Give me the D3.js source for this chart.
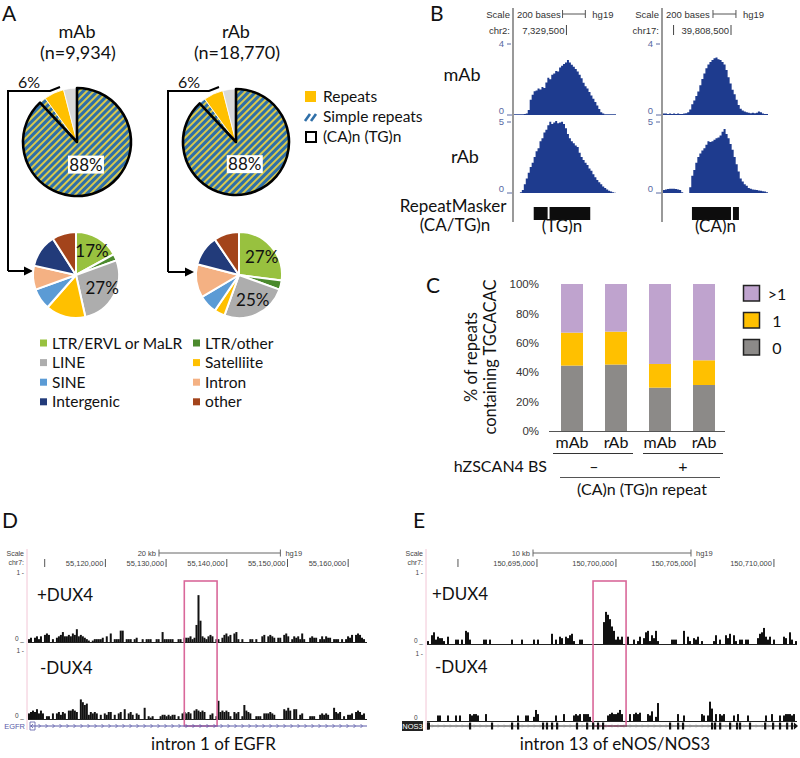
<!DOCTYPE html>
<html><head><meta charset="utf-8">
<script src="https://cdn.jsdelivr.net/npm/d3@7"></script>
<style>body{margin:0;background:#fff} svg{display:block} text{font-family:Lato,"Open Sans",sans-serif}</style>
</head><body><svg id="c" width="800" height="758"></svg>
<script>
// ---------------- DATA ----------------
// Panel A top pies
const topPieCategories = ["(CA)n (TG)n", "Other simple repeats", "Repeats", "Non-repeat"];
const topPieMAb = [88, 2, 6, 4];
const topPieRAb = [88, 2, 6, 4];
const topPieTitles = ["mAb", "rAb"];
const topPieCounts = ["(n=9,934)", "(n=18,770)"];
const topPieLabel = "88%";
const calloutLabel = "6%";
const topLegend = ["Repeats", "Simple repeats", "(CA)n (TG)n"];
// Panel A sub pies (repeat classes)
const repeatClasses = ["LTR/ERVL or MaLR", "LTR/other", "LINE", "Satelliite", "SINE", "Intron", "Intergenic", "other"];
const subPieMAb = [17, 2.5, 27, 15, 8, 9, 12.5, 9];
const subPieRAb = [27, 3.5, 25, 4, 7, 12.5, 11.5, 9.5];
const subPieLabelsMAb = ["17%", "", "27%", "", "", "", "", ""];
const subPieLabelsRAb = ["27%", "", "25%", "", "", "", "", ""];
// Panel B coverage (binned)
const bLeftDomain = [7329040, 7329935];
const bRightDomain = [39807908, 39808822];
const bLeftMAb = [0.04,0.04,0.04,0.04,0.04,0.06,0.08,0.28,0.85,1.13,1.32,1.36,1.47,1.42,1.55,1.5,1.8,2.07,1.98,2.23,2.3,2.45,2.42,2.64,2.74,2.83,2.92,3.06,2.92,2.79,2.68,2.55,2.42,2.23,2.04,1.79,1.6,1.47,1.28,1.09,0.9,0.72,0.53,0.34,0.15,0.08,0.04,0.04,0.04,0.04,0.04,0.04];
const bLeftRAb = [0,0,0,0.05,0.2,0.6,1.0,1.4,1.8,2.1,2.5,2.9,3.1,3.6,3.8,4.2,4.4,4.7,4.95,4.8,4.9,5.0,4.85,4.9,4.95,4.8,4.5,4.1,3.8,3.6,3.45,3.3,3.2,2.8,2.5,2.3,2.1,1.95,1.7,1.55,1.3,1.1,0.9,0.75,0.6,0.45,0.35,0.25,0.15,0.1,0.05,0.02];
const bRightMAb = [0.08,0.08,0.06,0.08,0.06,0.08,0.06,0.08,0.06,0.06,0.08,0.1,0.15,0.3,0.6,0.8,1.05,1.3,1.65,2.0,2.3,2.6,2.8,2.95,3.05,3.15,3.2,3.1,3.05,2.95,2.8,2.5,2.1,1.75,1.4,1.15,0.85,0.55,0.35,0.25,0.2,0.15,0.12,0.1,0.12,0.1,0.12,0.2,0.15,0.08,0.06,0.06];
const bRightRAb = [0.2,0.25,0.28,0.3,0.3,0.3,0.28,0.25,0.2,0.05,0,0,0,0.4,1.2,1.6,2.1,2.5,2.75,2.95,3.1,3.35,3.6,3.55,3.6,3.7,3.8,3.85,4.0,4.25,4.45,4.1,3.8,3.4,3.0,2.5,2.0,1.5,1.0,0.8,0.6,0.5,0.35,0.3,0.25,0.22,0.2,0.18,0.15,0.12,0.1,0.05];
const bLeftRepeats = [[7329213, 7329335], [7329352, 7329709]];
const bRightRepeats = [[39808160, 39808500], [39808517, 39808569]];
const bLeftTicks = [7329500];
const bRightTicks = [39808000, 39808500];
const bLeftBarStart = 7329466;
const bRightBarStart = 39808343;
const bTrackMax = [4, 5];
// Panel C stacked bars
const cGroups = ["mAb", "rAb", "mAb", "rAb"];
const cZero = [44.5, 45.2, 29.5, 31.3];
const cOne = [22.4, 22.4, 16.1, 16.8];
const cMore = [33.1, 32.4, 54.4, 51.9];
const cTicks = [0, 20, 40, 60, 80, 100];
const cLegend = [">1", "1", "0"];
// Panel D/E tracks: one char per bin, base-36 in units of 0.02
const dDomain = [55107250, 55163100];
const dTicks = [55110000, 55120000, 55130000, 55140000, 55150000, 55160000];
const dTickLabels = ["", "55,120,000", "55,130,000", "55,140,000", "55,150,000", "55,160,000"];
const dBar = [55128830, 55148830];
const dBox = [55133000, 55138400];
const dPlus = "2303424056502034574454659454321012222304060222880222023002022200220722222002203334 23cxf43245402203564506720200022020045045430330564024342620034330242433022202024350565320".replace(/ /g,"");
const dMinus = "45657464022040453540667650ecab35454030435503045070453043008021200023323233020454540676565003402d565652054502a654002220444543000076860770340002220034343008545020334056534 0".replace(/ /g,"");
const eDomain = [150688040, 150711460];
const eTicks = [150690000, 150695000, 150700000, 150705000, 150710000];
const eTickLabels = ["", "150,695,000", "150,700,000", "150,705,000", "150,710,000"];
const eBar = [150694750, 150704750];
const eBox = [150698550, 150700640];
const ePlus = "2068354420500033030983000000330300000000003000030000030300000070305405467200330000000000fmkhc9353500500302504892649200000033300090520435020000026030064706203303300004 78b5350300005408302".replace(/ /g,"");
const eMinus = "00000440004000404000054554000500000000000000040004400385000000004000500004545055530000000045655685000505656000547 03d00000000050040000000054 04e9050545000040500004000000004005000404555450".replace(/ /g,"");
const nos3Exons = [150688100,150690760,150692150,150693420,150693800,150695380,150695630,150695950,150696270,150697530,150698170,150698550,150698860,150699180,150703420,150703930,150704240,150706080,150706270,150706590,150707220,150707660,150707850,150708480,150709440,150709940,150710380,150710830,150711140];

// ---------------- DRAW ----------------
const svg = d3.select("#c");
svg.append("rect").attr("width", 800).attr("height", 758).attr("fill", "#fff");
const defs = svg.append("defs");
const pat = defs.append("pattern").attr("id", "hatch").attr("patternUnits", "userSpaceOnUse")
  .attr("width", 5).attr("height", 5).attr("patternTransform", "rotate(45)");
pat.append("rect").attr("width", 5).attr("height", 5).attr("fill", "#2f6fa8");
pat.append("rect").attr("width", 2).attr("height", 5).attr("fill", "#d8c94c");

const T = (x, y, s, size, opt = {}) => {
  const t = svg.append("text").attr("x", x).attr("y", y).text(s).attr("font-size", size)
    .attr("fill", opt.fill || "#111").attr("text-anchor", opt.anchor || "start");
  if (opt.family) t.style("font-family", opt.family);
  return t;
};
const fam = "Liberation Sans, Arial, sans-serif";

// Panel letters
T(2, 21, "A", 21); T(430, 21, "B", 21); T(426, 293, "C", 21); T(2, 528, "D", 21); T(413, 528, "E", 21);

// ---- Panel A ----
const pie = d3.pie().sort(null).value(d => d);
const topFills = ["url(#hatch)", "url(#hatch)", "#FFC000", "#D9D9D9"];
function topPie(cx, cy, r, vals, title, count, xL, arrowY, tipX) {
  T(cx, 38, title, 18, { anchor: "middle" });
  T(cx + 1, 59, count, 18, { anchor: "middle" });
  const g = svg.append("g").attr("transform", `translate(${cx},${cy})`);
  const arc = d3.arc().innerRadius(0).outerRadius(r);
  const arcs = pie(vals);
  arcs.forEach((a, i) => { if (i > 0) g.append("path").attr("d", arc(a)).attr("fill", topFills[i]).attr("stroke", "#fff").attr("stroke-width", 0.8); });
  g.append("path").attr("d", arc(arcs[0])).attr("fill", topFills[0]).attr("stroke", "#000").attr("stroke-width", 2.6).attr("stroke-linejoin", "round");
  const c = d3.arc().innerRadius(0).outerRadius(r * 0.9).centroid(arcs[0]);
  g.append("rect").attr("x", c[0] - 18).attr("y", c[1] - 9).attr("width", 36).attr("height", 18).attr("fill", "#fff");
  g.append("text").attr("x", c[0]).attr("y", c[1] + 6).attr("text-anchor", "middle").attr("font-size", 17).attr("fill", "#111").text(topPieLabel);
  // callout
  const hy = cy - 51, hx = cx - 27;
  T(xL + 21, 88, calloutLabel, 16, { anchor: "middle" });
  svg.append("line").attr("x1", hx).attr("y1", hy + 1).attr("x2", cx - 17).attr("y2", cy - 55).attr("stroke", "#fff").attr("stroke-width", 4);
  svg.append("path").attr("d", `M${xL},${arrowY}V${hy}H${hx}L${cx - 17},${cy - 55}`).attr("fill", "none").attr("stroke", "#000").attr("stroke-width", 2);
  svg.append("path").attr("d", `M${xL},${arrowY}H${tipX - 8}`).attr("stroke", "#000").attr("stroke-width", 2);
  svg.append("path").attr("d", `M${tipX},${arrowY}L${tipX - 9},${arrowY - 4.5}L${tipX - 9},${arrowY + 4.5}Z`).attr("fill", "#000");
}
topPie(77, 142, 54, topPieMAb, topPieTitles[0], topPieCounts[0], 8, 271, 33);
topPie(236, 142, 53, topPieRAb, topPieTitles[1], topPieCounts[1], 168, 272, 194);

// top legend
svg.append("rect").attr("x", 305).attr("y", 91).attr("width", 11).attr("height", 11).attr("fill", "#FFC000");
[0, 6].forEach(dx => svg.append("line").attr("x1", 305 + dx).attr("y1", 121).attr("x2", 310 + dx).attr("y2", 114).attr("stroke", "#2f6fa8").attr("stroke-width", 2.6));
svg.append("rect").attr("x", 306).attr("y", 132).attr("width", 10).attr("height", 10).attr("fill", "#fff").attr("stroke", "#000").attr("stroke-width", 2);
topLegend.forEach((s, i) => T(323, 102 + i * 20, s, 15.5));

// sub pies
const subColors = ["#98c13f", "#4b8a2d", "#adadad", "#FFC000", "#5b9bd5", "#f4b183", "#223b7a", "#a3441b"];
function subPie(cx, cy, r, vals, labels) {
  const g = svg.append("g").attr("transform", `translate(${cx},${cy})`);
  const arc = d3.arc().innerRadius(0).outerRadius(r);
  const lab = d3.arc().innerRadius(0).outerRadius(r * 1.28);
  const arcs = pie(vals);
  g.selectAll("path").data(arcs).join("path").attr("d", arc).attr("fill", (d, i) => subColors[i]).attr("stroke", "#fff").attr("stroke-width", 2).attr("stroke-linejoin", "round");
  arcs.forEach((a, i) => {
    if (!labels[i]) return;
    const c = lab.centroid(a);
    g.append("text").attr("x", c[0] + 2).attr("y", c[1] + 6).attr("text-anchor", "middle").attr("font-size", 17).attr("fill", "#111").text(labels[i]);
  });
}
subPie(76, 275, 43, subPieMAb, subPieLabelsMAb);
subPie(239, 275, 43, subPieRAb, subPieLabelsRAb);

// sub legend
repeatClasses.forEach((s, i) => {
  const col = i % 2, row = Math.floor(i / 2);
  const x = col ? 193 : 40, y = 343 + row * 19.6;
  svg.append("rect").attr("x", x).attr("y", y - 3.5).attr("width", 7).attr("height", 7).attr("fill", subColors[i]);
  T(x + 12, y + 5.5, s, 15.5);
});

// ---- Panel B ----
const trackBlue = "#1e3b8e", axGray = "#5a6aa3";
function bPanel(domain, axisX, endX, dataM, dataR, ticks, chrom, tickLabel, barStart, repeats, repLabel) {
  const x = d3.scaleLinear().domain(domain).range([axisX + 1, endX]);
  svg.append("line").attr("x1", axisX).attr("y1", 8).attr("x2", axisX).attr("y2", 222).attr("stroke", "#777").attr("stroke-width", 1.5);
  T(axisX - 3, 18, "Scale", 9.5, { anchor: "end", fill: "#333", family: fam });
  const bx1 = x(barStart), bx2 = x(barStart + 200);
  T(axisX + 4, 18, "200 bases", 9.5, { fill: "#333", family: fam });
  svg.append("path").attr("d", `M${bx1},10V18M${bx1},14H${bx2}M${bx2},10V18`).attr("stroke", "#555").attr("fill", "none");
  T(bx2 + 7, 18, "hg19", 9.5, { fill: "#333", family: fam });
  T(axisX - 3, 34, chrom, 9.5, { anchor: "end", fill: "#333", family: fam });
  ticks.forEach(t => svg.append("line").attr("x1", x(t)).attr("x2", x(t)).attr("y1", 25).attr("y2", 35).attr("stroke", "#444"));
  const tk = ticks[ticks.length - 1];
  T(x(tk) - 2, 34, tickLabel, 9.5, { anchor: "end", fill: "#333", family: fam });
  const n = dataM.length, bw = (domain[1] - domain[0]) / n;
  [[dataM, 43, 115, bTrackMax[0]], [dataR, 121, 193, bTrackMax[1]]].forEach(([vals, top, base, mx]) => {
    const y = d3.scaleLinear().domain([0, mx]).range([base, top]);
    const area = d3.area().curve(d3.curveStepAfter).x((d, i) => x(domain[0] + i * bw)).y0(base).y1(d => y(d));
    const pts = vals.concat([vals[n - 1]]);
    svg.append("path").attr("d", area(pts)).attr("fill", trackBlue);
    T(axisX - 9, top + 4, String(mx), 9.5, { anchor: "end", fill: axGray, family: fam });
    svg.append("line").attr("x1", axisX - 6).attr("x2", axisX - 2).attr("y1", top + 1).attr("y2", top + 1).attr("stroke", axGray);
    T(axisX - 9, base - 1, "0", 9.5, { anchor: "end", fill: axGray, family: fam });
    svg.append("line").attr("x1", axisX - 6).attr("x2", axisX - 1).attr("y1", base).attr("y2", base).attr("stroke", axGray);
  });
  repeats.forEach(r => svg.append("rect").attr("x", x(r[0])).attr("y", 207).attr("width", x(r[1]) - x(r[0])).attr("height", 13).attr("fill", "#0d0d0d"));
  const rc = (x(repeats[0][0]) + x(repeats[repeats.length - 1][1])) / 2;
  T(rc, 232, repLabel, 17, { anchor: "middle" });
}
bPanel(bLeftDomain, 513, 616, bLeftMAb, bLeftRAb, bLeftTicks, "chr2:", "7,329,500", bLeftBarStart, bLeftRepeats, "(TG)n");
bPanel(bRightDomain, 662, 768, bRightMAb, bRightRAb, bRightTicks, "chr17:", "39,808,500", bRightBarStart, bRightRepeats, "(CA)n");
T(462, 81, "mAb", 18, { anchor: "middle" });
T(465, 163, "rAb", 18, { anchor: "middle" });
T(453, 212, "RepeatMasker", 17, { anchor: "middle" });
T(455, 231, "(CA/TG)n", 17, { anchor: "middle" });

// ---- Panel C ----
const cx = d3.scaleBand().domain(d3.range(cGroups.length)).range([550, 726]).paddingInner(0.5).paddingOuter(0.25);
const cy = d3.scaleLinear().domain([0, 100]).range([431, 284]);
const cCols = ["#8c8a88", "#FFC000", "#bfa3ce"];
const stack = cGroups.map((g, i) => [cZero[i], cOne[i], cMore[i]]);
stack.forEach((s, i) => {
  let acc = 0;
  s.forEach((v, k) => {
    svg.append("rect").attr("x", cx(i)).attr("width", cx.bandwidth()).attr("y", cy(acc + v)).attr("height", cy(acc) - cy(acc + v)).attr("fill", cCols[k]);
    acc += v;
  });
});
const yAx = svg.append("g").attr("transform", "translate(549,0)")
  .call(d3.axisLeft(cy).tickValues(cTicks).tickSize(0).tickPadding(10).tickFormat(d => d + "%"));
yAx.select(".domain").remove();
yAx.selectAll("text").attr("font-size", 11.5).attr("fill", "#333").style("font-family", fam);
svg.append("line").attr("x1", 549).attr("x2", 725).attr("y1", 431.5).attr("y2", 431.5).attr("stroke", "#555").attr("stroke-width", 1);
cGroups.forEach((g, i) => T(cx(i) + cx.bandwidth() / 2, 448, g, 16, { anchor: "middle" }));
svg.append("line").attr("x1", 553).attr("x2", 633).attr("y1", 453.5).attr("y2", 453.5).attr("stroke", "#333");
svg.append("line").attr("x1", 643).attr("x2", 723).attr("y1", 453.5).attr("y2", 453.5).attr("stroke", "#333");
T(547, 472, "hZSCAN4 BS", 16, { anchor: "end" });
T(594, 472, "–", 16, { anchor: "middle" });
T(683, 472, "+", 16, { anchor: "middle" });
svg.append("line").attr("x1", 560).attr("x2", 720).attr("y1", 477.5).attr("y2", 477.5).attr("stroke", "#555");
T(642, 495, "(CA)n (TG)n repeat", 16, { anchor: "middle" });
svg.append("text").attr("transform", "translate(477,357) rotate(-90)").attr("text-anchor", "middle").attr("font-size", 16.5).attr("fill", "#111").text("% of repeats");
svg.append("text").attr("transform", "translate(496,357) rotate(-90)").attr("text-anchor", "middle").attr("font-size", 16.5).attr("fill", "#111").text("containing TGCACAC");
cLegend.forEach((s, i) => {
  const y = 285 + i * 27;
  svg.append("rect").attr("x", 743.5).attr("y", y + 0.5).attr("width", 16).attr("height", 15.5).attr("fill", cCols[2 - i]).attr("stroke", "#222").attr("stroke-width", 1.5);
  T(777, y + 15, s, 16, { anchor: "middle" });
});

// ---- Panels D / E ----
const parse = s => Array.from(s).map(c => parseInt(c, 36) * 0.02);
function gPanel(opt) {
  const x = d3.scaleLinear().domain(opt.domain).range(opt.range);
  const L = opt.range[0];
  svg.append("line").attr("x1", L - 1).attr("x2", L - 1).attr("y1", 549).attr("y2", 730).attr("stroke", "#f2c6d6").attr("stroke-width", 1);
  T(L - 4, 556, "Scale", 7, { anchor: "end", fill: "#444", family: fam });
  T(L - 4, 565, "chr7:", 7, { anchor: "end", fill: "#444", family: fam });
  const b1 = x(opt.bar[0]), b2 = x(opt.bar[1]);
  T(b1 - 3, 556, opt.barLabel, 7.5, { anchor: "end", fill: "#444", family: fam });
  svg.append("path").attr("d", `M${b1},549.5V556.5M${b1},553H${b2}M${b2},549.5V556.5`).attr("stroke", "#666").attr("fill", "none");
  T(b2 + 5, 556, "hg19", 7.5, { fill: "#444", family: fam });
  opt.ticks.forEach((t, i) => {
    svg.append("line").attr("x1", x(t)).attr("x2", x(t)).attr("y1", 559).attr("y2", 567).attr("stroke", "#555");
    if (opt.tickLabels[i]) T(x(t) - 2, 566, opt.tickLabels[i], 7.5, { anchor: "end", fill: "#444", family: fam });
  });
  opt.tracks.forEach(tr => {
    const vals = parse(tr.data), n = vals.length, bw = (opt.domain[1] - opt.domain[0]) / n;
    const y = d3.scaleLinear().domain([0, 1]).range([tr.base, tr.top]);
    T(L - 4, tr.top + 4, "1 -", 6.5, { anchor: "end", fill: "#444", family: fam });
    T(L - 4, tr.base - 1, "0 _", 6.5, { anchor: "end", fill: "#444", family: fam });
    svg.append("g").selectAll("rect").data(vals).join("rect")
      .attr("x", (d, i) => x(opt.domain[0] + i * bw))
      .attr("width", (d, i) => x(opt.domain[0] + (i + 1) * bw) - x(opt.domain[0] + i * bw))
      .attr("y", d => y(d)).attr("height", d => tr.base - y(d)).attr("fill", "#111");
    svg.append("line").attr("x1", L).attr("x2", opt.range[1]).attr("y1", tr.base + 0.5).attr("y2", tr.base + 0.5).attr("stroke", "#222").attr("stroke-width", 1);
    T(tr.lx, tr.ly, tr.label, 17);
  });
  svg.append("rect").attr("x", x(opt.box[0])).attr("y", 581).attr("width", x(opt.box[1]) - x(opt.box[0])).attr("height", 145)
    .attr("fill", "none").attr("stroke", "#d9689a").attr("stroke-width", 1.6);
  T((opt.range[0] + opt.range[1]) / 2 + opt.capDx, 750, opt.caption, 17, { anchor: "middle" });
  return x;
}
const xD = gPanel({
  domain: dDomain, range: [28, 367], bar: dBar, barLabel: "20 kb",
  ticks: dTicks, tickLabels: dTickLabels, box: dBox, caption: "intron 1 of EGFR", capDx: 16,
  tracks: [{ data: dPlus, top: 571, base: 642, label: "+DUX4", lx: 37, ly: 601 }, { data: dMinus, top: 649, base: 719, label: "-DUX4", lx: 40, ly: 674 }]
});
// EGFR gene
const egC = "#5a5aa8";
svg.append("line").attr("x1", 30).attr("x2", 367).attr("y1", 726).attr("y2", 726).attr("stroke", egC).attr("stroke-width", 1);
svg.append("g").selectAll("path").data(d3.range(40, 366, 7)).join("path").attr("d", d => `M${d - 1.5},724L${d + 0.5},726L${d - 1.5},728`).attr("stroke", egC).attr("fill", "none").attr("stroke-width", 0.8);
svg.append("path").attr("d", "M30,722V730M30,722H35V730H30M33,724L31,726L33,728").attr("stroke", egC).attr("fill", "none").attr("stroke-width", 0.8);
T(25, 729, "EGFR", 7.5, { anchor: "end", fill: egC, family: fam });

const xE = gPanel({
  domain: eDomain, range: [427, 797], bar: eBar, barLabel: "10 kb",
  ticks: eTicks, tickLabels: eTickLabels, box: eBox, caption: "intron 13 of eNOS/NOS3", capDx: 3,
  tracks: [{ data: ePlus, top: 571, base: 644, label: "+DUX4", lx: 432, ly: 600 }, { data: eMinus, top: 652, base: 721, label: "-DUX4", lx: 435, ly: 673 }]
});
// NOS3 gene
svg.append("line").attr("x1", 427).attr("x2", 797).attr("y1", 726).attr("y2", 726).attr("stroke", "#333").attr("stroke-width", 1);
svg.append("g").selectAll("path").data(d3.range(433, 795, 6)).join("path").attr("d", d => `M${d - 1},724.5L${d + 0.5},726L${d - 1},727.5`).attr("stroke", "#888").attr("fill", "none").attr("stroke-width", 0.6);
svg.append("g").selectAll("rect").data(nos3Exons).join("rect").attr("x", d => xE(d) - 1).attr("width", 2.2).attr("y", 722.5).attr("height", 7).attr("fill", "#111");
svg.append("rect").attr("x", 427).attr("y", 722.5).attr("width", 3).attr("height", 7).attr("fill", "#111");
svg.append("path").attr("d", "M794,722.5L798,726L794,729.5Z").attr("fill", "#111");
svg.append("rect").attr("x", 402).attr("y", 721).attr("width", 21).attr("height", 10).attr("fill", "#222");
T(412.5, 729, "NOS3", 7.5, { anchor: "middle", fill: "#fff", family: fam });
</script></body></html>
